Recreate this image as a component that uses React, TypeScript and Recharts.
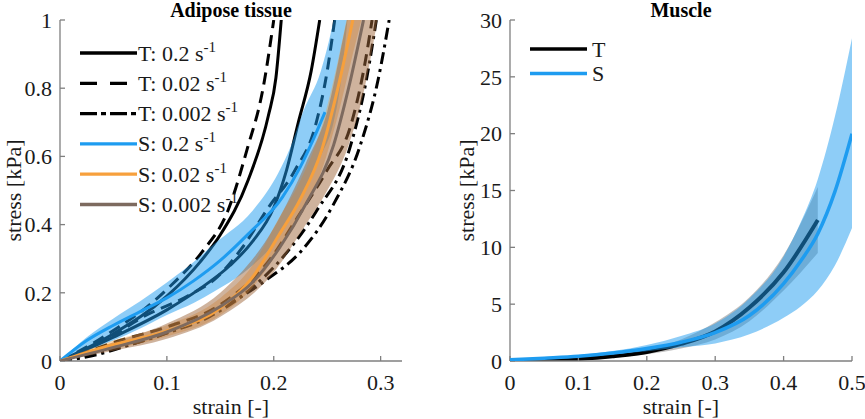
import React from 'react';
import { ComposedChart, Line, Area, XAxis, YAxis, Legend } from 'recharts';

type Pt = [number, number];
type Band = [number, number, number];

// ---------- ticks ----------
const adiposeXTicks = [0, 0.1, 0.2, 0.3];
const adiposeYTicks = [0, 0.2, 0.4, 0.6, 0.8, 1];
const muscleXTicks = [0, 0.1, 0.2, 0.3, 0.4, 0.5];
const muscleYTicks = [0, 5, 10, 15, 20, 25, 30];

// ---------- Adipose tissue: T (tests), [strain, stress] ----------
const tFastA: Pt[] = [[0, 0], [0.05, 0.08], [0.1, 0.19], [0.131, 0.29], [0.15, 0.37], [0.176, 0.53], [0.195, 0.72], [0.202, 0.83], [0.207, 1.0]];
const tFastB: Pt[] = [[0, 0], [0.05, 0.07], [0.1, 0.15], [0.13, 0.21], [0.159, 0.28], [0.18, 0.35], [0.2, 0.45], [0.212, 0.56], [0.223, 0.7], [0.235, 0.85], [0.243, 1.0]];
const tMidA: Pt[] = [[0, 0], [0.03, 0.05], [0.055, 0.1], [0.08, 0.155], [0.105, 0.225], [0.133, 0.32], [0.157, 0.44], [0.175, 0.62], [0.19, 0.8], [0.2, 1.0]];
const tMidB: Pt[] = [[0, 0], [0.05, 0.075], [0.078, 0.13], [0.119, 0.19], [0.147, 0.246], [0.17, 0.33], [0.195, 0.45], [0.22, 0.56], [0.239, 0.69], [0.25, 0.85], [0.257, 1.0]];
const tMidC: Pt[] = [[0, 0], [0.056, 0.06], [0.1, 0.1], [0.15, 0.165], [0.197, 0.3], [0.222, 0.42], [0.25, 0.56], [0.272, 0.69], [0.285, 0.867], [0.292, 1.0]];
const tSlowA: Pt[] = [[0, 0], [0.03, 0.015], [0.068, 0.05], [0.115, 0.1], [0.162, 0.175], [0.194, 0.24], [0.225, 0.32], [0.256, 0.46], [0.281, 0.633], [0.298, 0.83], [0.308, 1.0]];
const tSlowB: Pt[] = [[0, 0], [0.056, 0.04], [0.103, 0.085], [0.14, 0.13], [0.178, 0.21], [0.21, 0.31], [0.24, 0.44], [0.272, 0.633], [0.287, 0.83], [0.296, 1.0]];

// ---------- Adipose tissue: S (simulations) ----------
const sFastLine: Pt[] = [[0, 0], [0.025, 0.06], [0.05, 0.105], [0.075, 0.145], [0.1, 0.185], [0.125, 0.235], [0.15, 0.295], [0.176, 0.372], [0.208, 0.48], [0.225, 0.57], [0.237, 0.65], [0.248, 0.73]];
const sFastBand: Band[] = [[0, 0, 0], [0.025, 0.03, 0.07], [0.05, 0.06, 0.125], [0.075, 0.095, 0.175], [0.1, 0.135, 0.23], [0.125, 0.17, 0.29], [0.145, 0.205, 0.345], [0.18, 0.28, 0.44], [0.204, 0.36, 0.55], [0.216, 0.42, 0.63], [0.228, 0.49, 0.735], [0.244, 0.6, 0.85], [0.256, 0.7, 1.0], [0.262, 0.8, 1.1], [0.269, 1.0, 1.3]];
const sMidLine: Pt[] = [[0, 0], [0.04, 0.04], [0.1, 0.088], [0.15, 0.155], [0.18, 0.245], [0.205, 0.37], [0.225, 0.475], [0.245, 0.62], [0.26, 0.8], [0.274, 1.0]];
const sMidBand: Band[] = [[0, 0, 0], [0.05, 0.035, 0.06], [0.1, 0.072, 0.105], [0.15, 0.135, 0.185], [0.18, 0.215, 0.28], [0.205, 0.325, 0.42], [0.225, 0.425, 0.53], [0.245, 0.56, 0.69], [0.26, 0.72, 0.88], [0.274, 0.9, 1.1], [0.282, 1.0, 1.25]];
const sSlowLine: Pt[] = [[0, 0], [0.05, 0.04], [0.1, 0.085], [0.15, 0.16], [0.18, 0.23], [0.205, 0.33], [0.23, 0.46], [0.256, 0.633], [0.27, 0.8], [0.284, 1.0]];
const sSlowBand: Band[] = [[0, 0, 0], [0.05, 0.03, 0.055], [0.1, 0.065, 0.11], [0.15, 0.13, 0.2], [0.2, 0.26, 0.39], [0.23, 0.4, 0.58], [0.25, 0.5, 0.73], [0.27, 0.633, 1.02], [0.285, 0.8, 1.2], [0.297, 1.0, 1.4]];

// ---------- Muscle ----------
const muscleTLine: Pt[] = [[0.02, 0], [0.05, 0.05], [0.1, 0.18], [0.15, 0.42], [0.2, 0.8], [0.25, 1.5], [0.3, 2.6], [0.35, 4.7], [0.4, 7.8], [0.45, 12.4]];
const muscleTBand: Band[] = [[0.02, 0, 0], [0.1, 0.12, 0.25], [0.2, 0.6, 1.0], [0.25, 1.1, 1.9], [0.3, 1.9, 3.4], [0.35, 3.5, 5.6], [0.4, 6.2, 9.3], [0.45, 9.5, 15.3]];
const muscleSLine: Pt[] = [[0, 0.1], [0.05, 0.25], [0.1, 0.42], [0.15, 0.7], [0.2, 1.1], [0.25, 1.65], [0.3, 2.5], [0.35, 4.0], [0.4, 6.8], [0.425, 8.8], [0.45, 11.2], [0.475, 14.9], [0.5, 20]];
const muscleSBand: Band[] = [[0, 0.05, 0.15], [0.1, 0.32, 0.52], [0.2, 0.85, 1.4], [0.25, 1.2, 2.2], [0.3, 1.55, 3.3], [0.35, 2.35, 5.5], [0.4, 3.8, 9.2], [0.425, 4.8, 12.2], [0.45, 6.2, 16.0], [0.475, 8.4, 21.5], [0.5, 11.7, 28.4]];

// ---------- styles ----------
const FONT = "'Liberation Serif', 'Times New Roman', Times, serif";
const BLUE = '#1e9cf0';
const ORANGE = '#f7a03c';
const BROWN = '#7d6a5f';
const AXIS = '#7f7f7f';
const DASH = '12 7';
const DASHDOT = '12 5 3 5';
const Z_BAND = 450;
const Z_SIM = 500;

const toPts = (a: Pt[]) => a.map(([x, y]) => ({ x, y }));
const toBand = (a: Band[]) => a.map(([x, lo, hi]) => ({ x, range: [lo, hi] }));

const leftLegendItems = [
  { name: 'T: 0.2', color: '#000', dash: undefined as string | undefined },
  { name: 'T: 0.02', color: '#000', dash: '17 13' },
  { name: 'T: 0.002', color: '#000', dash: '17 4 5 4' },
  { name: 'S: 0.2', color: BLUE, dash: undefined },
  { name: 'S: 0.02', color: ORANGE, dash: undefined },
  { name: 'S: 0.002', color: BROWN, dash: undefined },
];
const rightLegendItems = [
  { name: 'T', color: '#000' },
  { name: 'S', color: BLUE },
];

const textStyle: React.CSSProperties = { fontFamily: FONT, fontSize: 22 };
const tickStyle = { fontSize: 22, fill: '#1a1a1a', fontFamily: FONT, style: textStyle };

const makeYTitle = (dx: number) => (props: any) => {
  const vb = props.viewBox || { x: 0, y: 0, width: 0, height: 0 };
  const cx = vb.x + dx;
  const cy = vb.y + vb.height / 2;
  return (
    <text x={cx} y={cy} transform={`rotate(-90 ${cx} ${cy})`} textAnchor="middle" dominantBaseline="central" fill="#1a1a1a" style={textStyle}>
      stress [kPa]
    </text>
  );
};
const xTitle = (props: any) => {
  const vb = props.viewBox || { x: 0, y: 0, width: 0, height: 0 };
  const cx = vb.x + vb.width / 2;
  const cy = vb.y + 45;
  return (
    <text x={cx} y={cy} textAnchor="middle" dominantBaseline="central" fill="#1a1a1a" style={textStyle}>
      strain [-]
    </text>
  );
};

const LeftLegend = () => (
  <svg width={240} height={185} style={{ overflow: 'visible' }}>
    {leftLegendItems.map((it, i) => {
      const y = 15 + i * 30.3;
      return (
        <g key={it.name}>
          <line x1={2} x2={59} y1={y} y2={y} stroke={it.color} strokeWidth={3.3} strokeDasharray={it.dash} />
          <text x={60} y={y + 7.5} fill="#1a1a1a" style={textStyle}>
            {it.name} s<tspan dy={-9} style={{ fontSize: 15 }}>-1</tspan>
          </text>
        </g>
      );
    })}
  </svg>
);

const RightLegend = () => (
  <svg width={100} height={60} style={{ overflow: 'visible' }}>
    {rightLegendItems.map((it, i) => {
      const y = 12 + i * 24.5;
      return (
        <g key={it.name}>
          <line x1={0} x2={57} y1={y} y2={y} stroke={it.color} strokeWidth={3.5} />
          <text x={62} y={y + 7.5} fill="#1a1a1a" style={textStyle}>{it.name}</text>
        </g>
      );
    })}
  </svg>
);

const titleStyle = (left: number, width: number): React.CSSProperties => ({
  position: 'absolute', left, top: 0, width, textAlign: 'center', fontFamily: FONT, fontWeight: 'bold', fontSize: 20, lineHeight: '20px', color: '#000',
});

const axisCommon = {
  axisLine: { stroke: AXIS, strokeWidth: 1.3 },
  tickLine: { stroke: AXIS, strokeWidth: 1.3 },
  tickSize: -5,
  tick: tickStyle,
};

export default function App() {
  return (
    <div style={{ position: 'absolute', left: 0, top: 0, width: 865, height: 419, background: '#fff', fontFamily: FONT }}>
      <div style={{ position: 'absolute', left: 0, top: 0 }}>
        <ComposedChart width={430} height={419} margin={{ top: 20, right: 28, left: 0, bottom: 0 }} style={{ fontFamily: FONT }}>
          <XAxis type="number" dataKey="x" domain={[0, 0.32]} ticks={adiposeXTicks} allowDataOverflow height={58} tickMargin={18} interval={0} {...axisCommon} label={{ content: xTitle }} />
          <YAxis type="number" domain={[0, 1]} ticks={adiposeYTicks} allowDataOverflow width={60} tickMargin={13} interval={0} {...axisCommon} label={{ content: makeYTitle(13) }} />
          <Line data={toPts(tFastA)} dataKey="y" type="monotone" stroke="#000" strokeWidth={3} dot={false} isAnimationActive={false} />
          <Line data={toPts(tFastB)} dataKey="y" type="monotone" stroke="#000" strokeWidth={3} dot={false} isAnimationActive={false} />
          <Line data={toPts(tMidA)} dataKey="y" type="monotone" stroke="#000" strokeWidth={3} strokeDasharray={DASH} dot={false} isAnimationActive={false} />
          <Line data={toPts(tMidB)} dataKey="y" type="monotone" stroke="#000" strokeWidth={3} strokeDasharray={DASH} dot={false} isAnimationActive={false} />
          <Line data={toPts(tMidC)} dataKey="y" type="monotone" stroke="#000" strokeWidth={3} strokeDasharray={DASH} dot={false} isAnimationActive={false} />
          <Line data={toPts(tSlowA)} dataKey="y" type="monotone" stroke="#000" strokeWidth={3} strokeDasharray={DASHDOT} dot={false} isAnimationActive={false} />
          <Line data={toPts(tSlowB)} dataKey="y" type="monotone" stroke="#000" strokeWidth={3} strokeDasharray={DASHDOT} dot={false} isAnimationActive={false} />
          <Area zIndex={Z_BAND} data={toBand(sFastBand)} dataKey="range" type="monotone" stroke="none" fill={BLUE} fillOpacity={0.5} isAnimationActive={false} />
          <Area zIndex={Z_BAND + 1} data={toBand(sMidBand)} dataKey="range" type="monotone" stroke="none" fill={ORANGE} fillOpacity={0.4} isAnimationActive={false} />
          <Area zIndex={Z_BAND + 2} data={toBand(sSlowBand)} dataKey="range" type="monotone" stroke="none" fill="#a0683c" fillOpacity={0.5} isAnimationActive={false} />
          <Line zIndex={Z_SIM} data={toPts(sFastLine)} dataKey="y" type="monotone" stroke={BLUE} strokeWidth={3} dot={false} isAnimationActive={false} />
          <Line zIndex={Z_SIM} data={toPts(sMidLine)} dataKey="y" type="monotone" stroke={ORANGE} strokeWidth={3} dot={false} isAnimationActive={false} />
          <Line zIndex={Z_SIM} data={toPts(sSlowLine)} dataKey="y" type="monotone" stroke={BROWN} strokeWidth={3} dot={false} isAnimationActive={false} />
          <Legend layout="vertical" align="center" verticalAlign="middle" content={<LeftLegend />} wrapperStyle={{ position: 'absolute', left: 78, top: 38, width: 240, height: 185 }} />
        </ComposedChart>
        <div style={titleStyle(60, 342)}>Adipose tissue</div>
      </div>
      <div style={{ position: 'absolute', left: 440, top: 0 }}>
        <ComposedChart width={425} height={419} margin={{ top: 20, right: 13, left: 0, bottom: 0 }} style={{ fontFamily: FONT }}>
          <XAxis type="number" dataKey="x" domain={[0, 0.5]} ticks={muscleXTicks} allowDataOverflow height={58} tickMargin={18} interval={0} {...axisCommon} label={{ content: xTitle }} />
          <YAxis type="number" domain={[0, 30]} ticks={muscleYTicks} allowDataOverflow width={70} tickMargin={13} interval={0} {...axisCommon} label={{ content: makeYTitle(26) }} />
          <Area data={toBand(muscleTBand)} dataKey="range" type="monotone" stroke="none" fill="#808080" fillOpacity={0.5} isAnimationActive={false} />
          <Line data={toPts(muscleTLine)} dataKey="y" type="monotone" stroke="#000" strokeWidth={4} dot={false} isAnimationActive={false} />
          <Area zIndex={Z_BAND} data={toBand(muscleSBand)} dataKey="range" type="monotone" stroke="none" fill={BLUE} fillOpacity={0.5} isAnimationActive={false} />
          <Line zIndex={Z_SIM} data={toPts(muscleSLine)} dataKey="y" type="monotone" stroke={BLUE} strokeWidth={3.5} dot={false} isAnimationActive={false} />
          <Legend layout="vertical" align="center" verticalAlign="middle" content={<RightLegend />} wrapperStyle={{ position: 'absolute', left: 90, top: 37, width: 100, height: 60 }} />
        </ComposedChart>
        <div style={titleStyle(70, 342)}>Muscle</div>
      </div>
    </div>
  );
}
